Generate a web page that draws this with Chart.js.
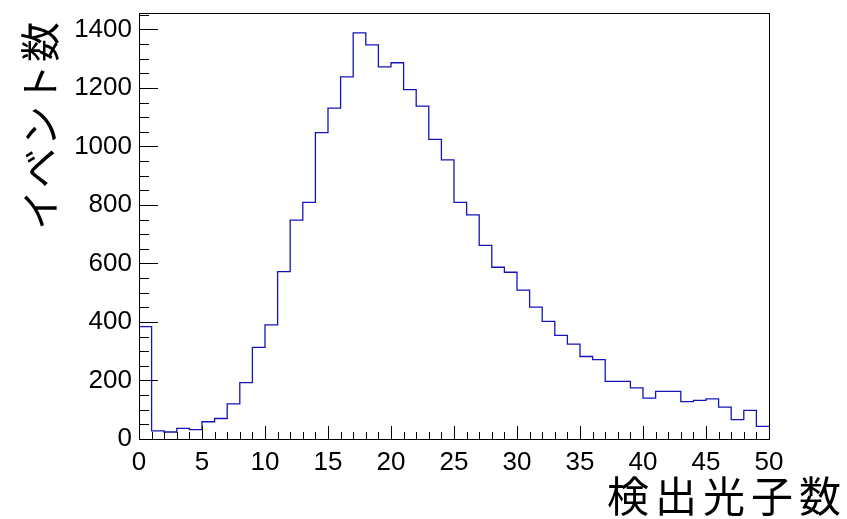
<!DOCTYPE html>
<html>
<head>
<meta charset="utf-8">
<script src="https://cdn.jsdelivr.net/npm/chart.js@4.4.1/dist/chart.umd.min.js"></script>
<style>
  html, body { margin: 0; padding: 0; background: white; }
  #wrap { width: 847px; height: 519px; position: relative; }
</style>
</head>
<body>
<div id="wrap"><canvas id="chart"></canvas></div>
<script>
// 検出光子数ヒストグラム (bin 幅 1, 0〜50)
const binEdges = [0,1,2,3,4,5,6,7,8,9,10,11,12,13,14,15,16,17,18,19,20,21,22,23,24,25,
  26,27,28,29,30,31,32,33,34,35,36,37,38,39,40,41,42,43,44,45,46,47,48,49];
const counts = [384,28,24,36,32,59,70,120,193,313,390,572,748,809,1047,1131,1238,1388,1347,1272,
  1286,1194,1138,1024,954,809,766,662,587,570,509,451,402,354,324,282,271,197,197,175,
  140,163,163,128,132,137,109,66,98,43];
const xTicks = [0,5,10,15,20,25,30,35,40,45,50];
const yTicks = [0,200,400,600,800,1000,1200,1400];
const xTitle = '検出光子数';
const yTitle = 'イベント数';

const points = binEdges.map((x, i) => ({ x: x, y: counts[i] }));
points.push({ x: 50, y: counts[counts.length - 1] });

// ROOT 風の枠と内向きの目盛り
const frame = {
  id: 'frame',
  afterDraw(chart) {
    const { ctx, chartArea: a, scales } = chart;
    const xs = scales.x, ys = scales.y;
    ctx.save();
    ctx.strokeStyle = '#000';
    ctx.lineWidth = 1;
    ctx.strokeRect(Math.round(a.left) + 0.5, Math.round(a.top) + 0.5,
      Math.round(a.right - a.left), Math.round(a.bottom - a.top));
    ctx.beginPath();
    for (let v = 0; v <= 1450; v += 50) {
      const y = Math.round(ys.getPixelForValue(v)) + 0.5;
      const len = v % 200 === 0 ? 19 : 10;
      ctx.moveTo(a.left, y);
      ctx.lineTo(a.left + len, y);
    }
    for (let v = 0; v <= 50; v += 1) {
      const x = Math.round(xs.getPixelForValue(v)) + 0.5;
      const len = v % 5 === 0 ? 13 : 7;
      ctx.moveTo(x, a.bottom);
      ctx.lineTo(x, a.bottom - len);
    }
    ctx.stroke();

    ctx.fillStyle = '#000';
    ctx.font = '42px "Noto Sans CJK JP"';
    ctx.letterSpacing = '6px';
    ctx.textAlign = 'right';
    ctx.textBaseline = 'alphabetic';
    ctx.fillText(xTitle, 847, 512);

    ctx.translate(40, 20);
    ctx.rotate(-Math.PI / 2);
    ctx.font = '40px "Noto Sans CJK JP"';
    ctx.letterSpacing = '2px';
    ctx.textAlign = 'right';
    ctx.textBaseline = 'middle';
    ctx.fillText(yTitle, 0, 0);
    ctx.restore();
  }
};

const ctx = document.getElementById('chart').getContext('2d');

new Chart(ctx, {
  type: 'line',
  data: {
    datasets: [{
      data: points,
      stepped: 'before',
      borderColor: '#1414b8',
      borderWidth: 1.3,
      pointRadius: 0,
      fill: false
    }]
  },
  options: {
    responsive: true,
    maintainAspectRatio: false,
    animation: false,
    layout: { padding: { left: 0, right: 78, top: 13, bottom: 0 } },
    plugins: { legend: { display: false }, tooltip: { enabled: false } },
    scales: {
      x: {
        type: 'linear',
        min: 0,
        max: 50,
        afterFit(s) { s.height = 80; s.paddingLeft = 0; s.paddingRight = 0; },
        afterBuildTicks(s) { s.ticks = xTicks.map(v => ({ value: v })); },
        grid: { display: false, drawTicks: false },
        border: { display: false },
        ticks: {
          color: '#000',
          padding: 8,
          maxRotation: 0,
          callback: v => String(v),
          font: { family: '"Liberation Sans", Arial', size: 26 }
        }
      },
      y: {
        min: 0,
        max: 1456,
        afterFit(s) { s.width = 139; s.paddingTop = 0; s.paddingBottom = 0; },
        afterBuildTicks(s) { s.ticks = yTicks.map(v => ({ value: v })); },
        grid: { display: false, drawTicks: false },
        border: { display: false },
        ticks: {
          color: '#000',
          padding: 7,
          callback: v => String(v),
          font: { family: '"Liberation Sans", Arial', size: 26 }
        }
      }
    }
  },
  plugins: [frame]
});
</script>
</body>
</html>
